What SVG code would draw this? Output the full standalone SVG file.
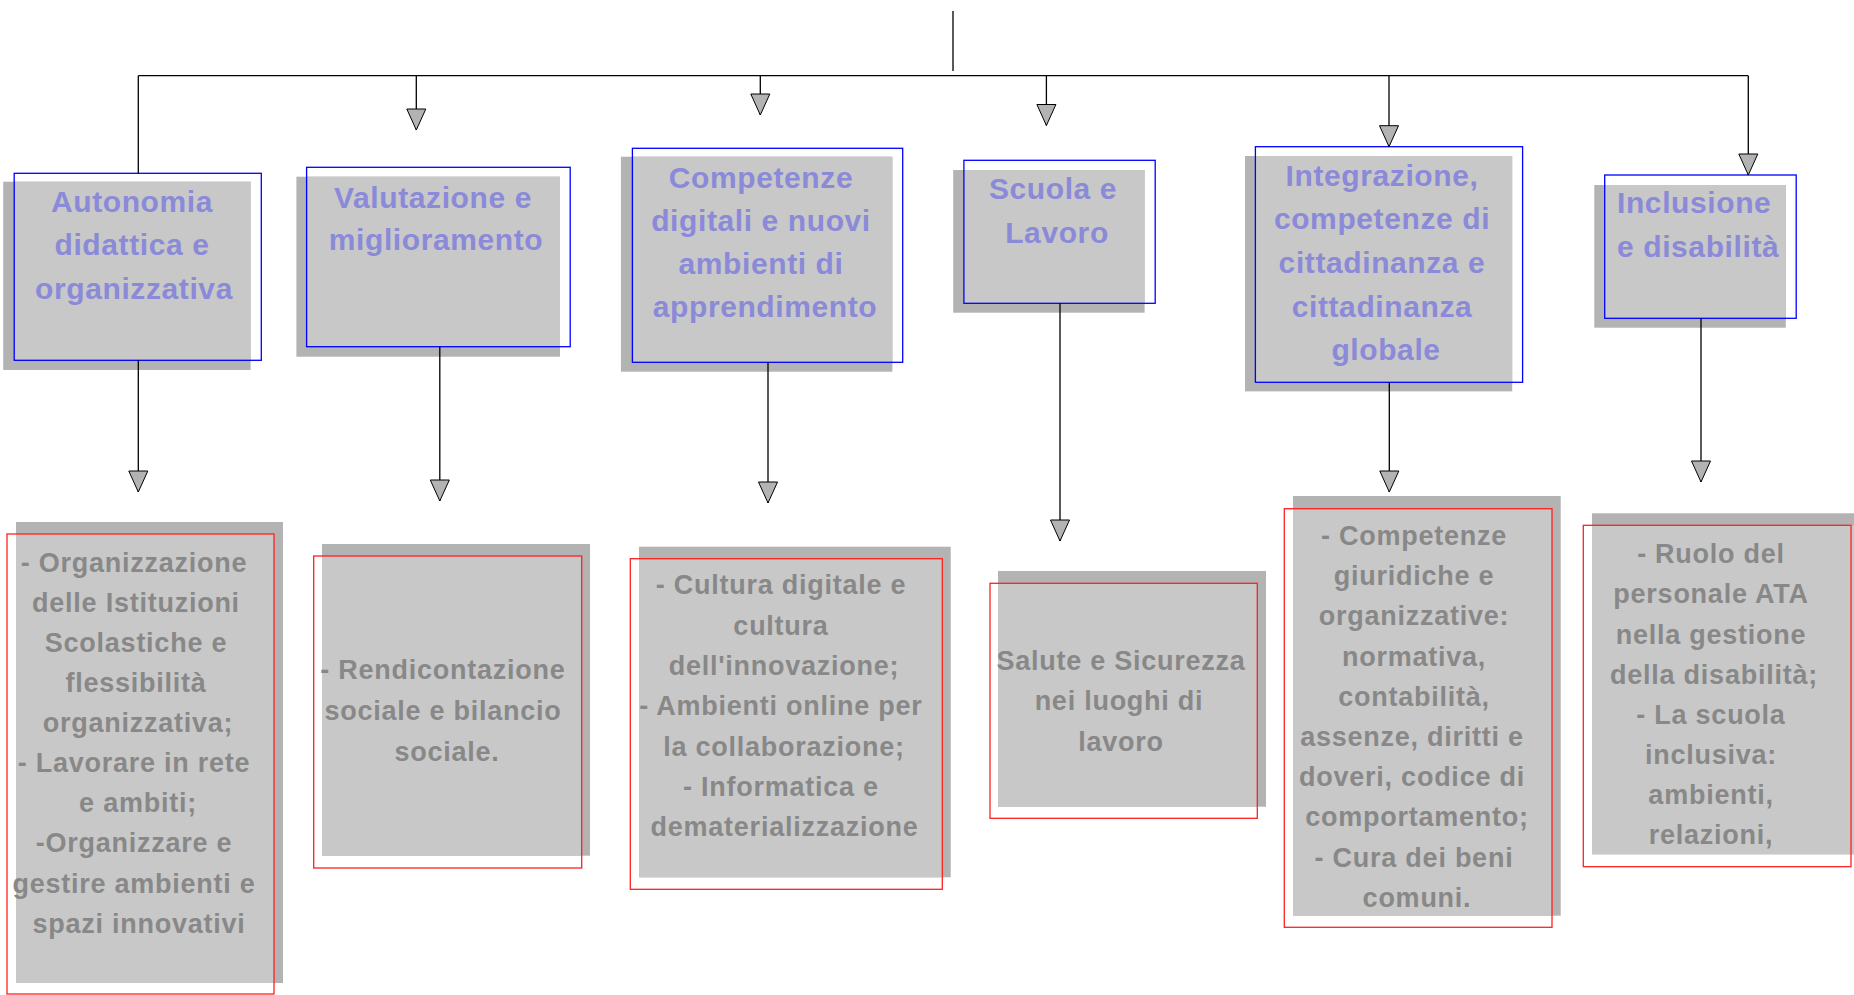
<svg xmlns="http://www.w3.org/2000/svg" width="1854" height="995" viewBox="0 0 1854 995">
<style>
.sh{fill:#b3b3b3}
.bg{fill:#c8c8c8}
.bl{fill:none;stroke:#0000ff;stroke-width:1.3}
.rd{fill:none;stroke:#ff2020;stroke-width:1.3}
.tt{font-family:"Liberation Sans",Arial,sans-serif;font-weight:bold;font-size:30px;letter-spacing:0.6px;fill:#8a8ad8;text-anchor:middle}
.bt{font-family:"Liberation Sans",Arial,sans-serif;font-weight:bold;font-size:27px;letter-spacing:0.75px;fill:#888888;text-anchor:middle}
.ln{fill:none;stroke:#000;stroke-width:1.3}
.ar{marker-end:url(#tri)}
</style>
<defs>
<marker id="tri" viewBox="-1 -1 23 21" refX="21" refY="9.5" markerWidth="23" markerHeight="21" markerUnits="userSpaceOnUse" orient="auto">
<path d="M0,0 L21,9.5 L0,19 Z" fill="#b3b3b3" stroke="#000" stroke-width="1"/>
</marker>
</defs>
<rect width="1854" height="995" fill="#ffffff"/>
<g id="n-autonomia">
<rect class="sh" x="3.2" y="181.7" width="247.4" height="188.3"/>
<rect class="bg" x="14.2" y="181.7" width="236.4" height="178.6"/>
<text class="tt"><tspan x="132" y="211.5">Autonomia</tspan><tspan x="132" y="255.3">didattica e</tspan><tspan x="134" y="299.1">organizzativa</tspan></text>
<rect class="bl" x="14.2" y="173.3" width="247.1" height="187"/>
</g>
<g id="n-valutazione">
<rect class="sh" x="296.4" y="176.7" width="263.6" height="180"/>
<rect class="bg" x="306.6" y="176.7" width="253.4" height="170"/>
<text class="tt"><tspan x="433" y="207.7">Valutazione e</tspan><tspan x="436" y="250">miglioramento</tspan></text>
<rect class="bl" x="306.6" y="167.3" width="263.6" height="179.4"/>
</g>
<g id="n-competenze">
<rect class="sh" x="620.9" y="156.7" width="271.5" height="215"/>
<rect class="bg" x="632.4" y="156.7" width="260" height="205.6"/>
<text class="tt"><tspan x="761" y="188.3">Competenze</tspan><tspan x="761" y="231">digitali e nuovi</tspan><tspan x="761" y="274">ambienti di</tspan><tspan x="765" y="316.7">apprendimento</tspan></text>
<rect class="bl" x="632.4" y="148.3" width="270.3" height="214"/>
</g>
<g id="n-scuola">
<rect class="sh" x="953.2" y="170" width="191.4" height="142.7"/>
<rect class="bg" x="963.9" y="170" width="180.7" height="133.3"/>
<text class="tt"><tspan x="1053" y="199.3">Scuola e</tspan><tspan x="1057" y="243.3">Lavoro</tspan></text>
<rect class="bl" x="963.9" y="160.3" width="191.3" height="143"/>
</g>
<g id="n-integrazione">
<rect class="sh" x="1245" y="156" width="267.2" height="235.4"/>
<rect class="bg" x="1255.4" y="156" width="256.8" height="226.3"/>
<text class="tt"><tspan x="1382" y="186">Integrazione,</tspan><tspan x="1382" y="229">competenze di</tspan><tspan x="1382" y="272.7">cittadinanza e</tspan><tspan x="1382" y="316.7">cittadinanza</tspan><tspan x="1386" y="360">globale</tspan></text>
<rect class="bl" x="1255.4" y="146.7" width="267.2" height="235.6"/>
</g>
<g id="n-inclusione">
<rect class="sh" x="1594.3" y="185" width="191.5" height="142.7"/>
<rect class="bg" x="1604.7" y="185" width="181.1" height="133.3"/>
<text class="tt" style="text-anchor:start"><tspan x="1617" y="213.3">Inclusione</tspan><tspan x="1617" y="257.3">e disabilità</tspan></text>
<rect class="bl" x="1604.7" y="175" width="191.5" height="143.3"/>
</g>
<g id="d-autonomia">
<rect class="sh" x="16" y="522" width="267" height="461"/>
<rect class="bg" x="16" y="534" width="258" height="449"/>
<text class="bt"><tspan x="134" y="571.7">- Organizzazione</tspan><tspan x="136" y="611.8">delle Istituzioni</tspan><tspan x="136" y="651.9">Scolastiche e</tspan><tspan x="136" y="692">flessibilità</tspan><tspan x="138" y="732.1">organizzativa;</tspan><tspan x="134" y="772.2">- Lavorare in rete</tspan><tspan x="138" y="812.3">e ambiti;</tspan><tspan x="134" y="852.4">-Organizzare e</tspan><tspan x="134" y="892.5">gestire ambienti e</tspan><tspan x="139" y="932.6">spazi innovativi</tspan></text>
<rect class="rd" x="7" y="534" width="267" height="460"/>
</g>
<g id="d-valutazione">
<rect class="sh" x="322" y="544" width="268" height="311.7"/>
<rect class="bg" x="322" y="556" width="259.7" height="299.7"/>
<text class="bt"><tspan x="443" y="679.3">- Rendicontazione</tspan><tspan x="443" y="720.3">sociale e bilancio</tspan><tspan x="447" y="761">sociale.</tspan></text>
<rect class="rd" x="313.7" y="556" width="268" height="312"/>
</g>
<g id="d-competenze">
<rect class="sh" x="639" y="546.7" width="311.7" height="330.6"/>
<rect class="bg" x="639" y="558.7" width="303.3" height="318.6"/>
<text class="bt"><tspan x="781" y="594.3">- Cultura digitale e</tspan><tspan x="781" y="634.6">cultura</tspan><tspan x="784" y="674.9">dell'innovazione;</tspan><tspan x="781" y="715.2">- Ambienti online per</tspan><tspan x="784" y="755.5">la collaborazione;</tspan><tspan x="781" y="795.8">- Informatica e</tspan><tspan x="784.5" y="836.1">dematerializzazione</tspan></text>
<rect class="rd" x="630.3" y="558.7" width="312" height="330.6"/>
</g>
<g id="d-scuola">
<rect class="sh" x="998" y="571" width="268" height="235.7"/>
<rect class="bg" x="998" y="583.3" width="259.3" height="223.4"/>
<text class="bt"><tspan x="1121" y="670">Salute e Sicurezza</tspan><tspan x="1119" y="710.4">nei luoghi di</tspan><tspan x="1121" y="750.5">lavoro</tspan></text>
<rect class="rd" x="990" y="583.3" width="267.3" height="235"/>
</g>
<g id="d-integrazione">
<rect class="sh" x="1293" y="496" width="267.7" height="419.7"/>
<rect class="bg" x="1293" y="508.7" width="259" height="407"/>
<text class="bt"><tspan x="1414" y="545">- Competenze</tspan><tspan x="1414" y="585.2">giuridiche e</tspan><tspan x="1414" y="625.4">organizzative:</tspan><tspan x="1414" y="665.6">normativa,</tspan><tspan x="1414" y="705.8">contabilità,</tspan><tspan x="1412" y="746">assenze, diritti e</tspan><tspan x="1412" y="786.2">doveri, codice di</tspan><tspan x="1417" y="826.4">comportamento;</tspan><tspan x="1414" y="866.6">- Cura dei beni</tspan><tspan x="1417" y="906.8">comuni.</tspan></text>
<rect class="rd" x="1284.3" y="508.7" width="267.7" height="418.6"/>
</g>
<g id="d-inclusione">
<rect class="sh" x="1592" y="513.3" width="270" height="341"/>
<rect class="bg" x="1592" y="525.3" width="262" height="329"/>
<text class="bt"><tspan x="1711" y="563.3">- Ruolo del</tspan><tspan x="1711" y="603.4">personale ATA</tspan><tspan x="1711" y="643.5">nella gestione</tspan><tspan x="1714" y="683.6">della disabilità;</tspan><tspan x="1711" y="723.7">- La scuola</tspan><tspan x="1711" y="763.8">inclusiva:</tspan><tspan x="1711" y="803.9">ambienti,</tspan><tspan x="1711" y="844">relazioni,</tspan></text>
<rect class="rd" x="1583.3" y="525.3" width="267.7" height="341.4"/>
</g>
<g id="connectors">
<path class="ln" d="M953,11 V71"/>
<path class="ln" d="M138.3,75.7 H1748.3"/>
<path class="ln" d="M138.3,75.7 V173.3"/>
<path class="ln ar" d="M416.3,75.7 V130"/>
<path class="ln ar" d="M760.3,75.7 V115"/>
<path class="ln ar" d="M1046.4,75.7 V125.5"/>
<path class="ln ar" d="M1389,75.7 V146.7"/>
<path class="ln ar" d="M1748.3,75.7 V175"/>
<path class="ln ar" d="M138.3,360.3 V492"/>
<path class="ln ar" d="M439.8,346.7 V501"/>
<path class="ln ar" d="M768,362.3 V503"/>
<path class="ln ar" d="M1060,303.3 V541"/>
<path class="ln ar" d="M1389.3,382.3 V492"/>
<path class="ln ar" d="M1701,318.3 V482"/>
</g>
</svg>
